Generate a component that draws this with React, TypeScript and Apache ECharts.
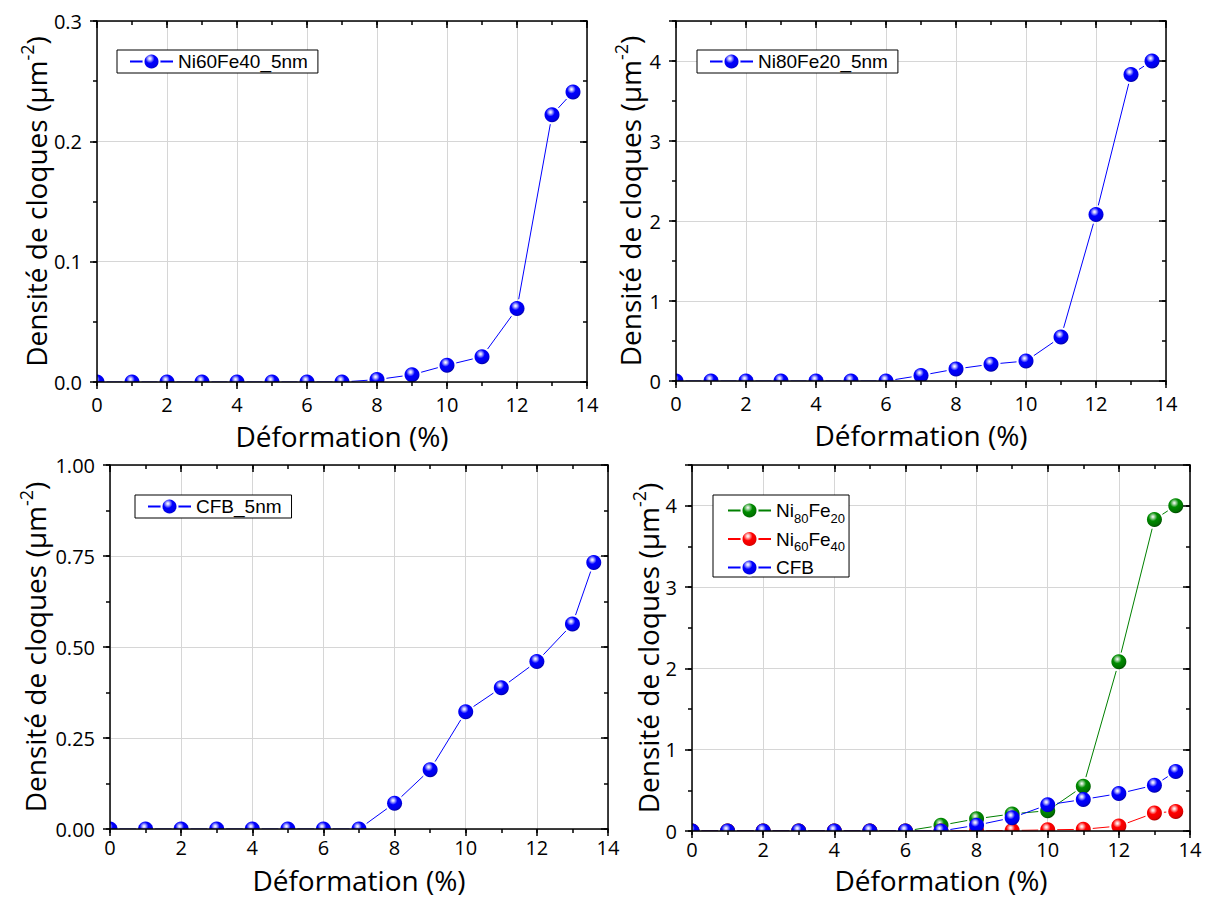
import React, { useEffect, useRef } from "react";
import * as echarts from "echarts";

// ---------- data ----------
const STRAIN = [0, 1, 2, 3, 4, 5, 6, 7, 8, 9, 10, 11, 12, 13, 13.6];
const NI60FE40 = [0, 0, 0, 0, 0, 0, 0, 0, 0.002, 0.006, 0.014, 0.021, 0.061, 0.222, 0.241];
const NI80FE20 = [0, 0, 0, 0, 0, 0, 0, 0.07, 0.15, 0.21, 0.25, 0.55, 2.08, 3.83, 4.0];
const CFB = [0, 0, 0, 0, 0, 0, 0, 0, 0.071, 0.163, 0.322, 0.388, 0.46, 0.563, 0.732];

const X_NAME = "Déformation (%)";
const Y_NAME = "{a|Densité de cloques (µm}{s|-2}{a|)}";
const X_RANGE = { min: 0, max: 14, major: 2, minor: 1, dec: 0 };
const Y_RANGES = [
  { min: 0, max: 0.3, major: 0.1, minor: 0.05, dec: 1 },
  { min: 0, max: 4.5, major: 1, minor: 0.5, dec: 0 },
  { min: 0, max: 1, major: 0.25, minor: 0.125, dec: 2 },
  { min: 0, max: 4.5, major: 1, minor: 0.5, dec: 0 },
];

const AXIS_FONT = "'Open Sans', 'DejaVu Sans', sans-serif";
const LEG_FONT = "'Liberation Sans', Arial, sans-serif";
const R = 7.5;

function sphere(stops: string[]) {
  return new echarts.graphic.RadialGradient(0.4, 0.32, 0.72, [
    { offset: 0, color: "#ffffff" },
    { offset: 0.12, color: stops[0] },
    { offset: 0.4, color: stops[1] },
    { offset: 0.8, color: stops[2] },
    { offset: 1, color: stops[3] },
  ]);
}
const BLUE = { line: "#0000ff", grad: () => sphere(["#c8c8ff", "#0000ff", "#0000e6", "#000090"]) };
const GREEN = { line: "#008000", grad: () => sphere(["#b8dcb8", "#008c00", "#007000", "#003c00"]) };
const RED = { line: "#ff0000", grad: () => sphere(["#ffc8c8", "#ff0000", "#e60000", "#940000"]) };

function axisSet(dim: "x" | "y", gi: number, r: any, nameGap: number, labelMargin: number, hideAbove?: number) {
  const near = dim === "x" ? "bottom" : "left";
  const far = dim === "x" ? "top" : "right";
  const base = { type: "value", gridIndex: gi, min: r.min, max: r.max };
  const tickStyle = { color: "#000", width: 1.5 };
  const lineStyle = { color: "#000", width: 1.5 };
  const main: any = {
    ...base,
    interval: r.major,
    position: near,
    axisLine: { show: false, onZero: false },
    axisTick: { show: true, length: 7, inside: false, lineStyle: tickStyle },
    minorTick: { show: false },
    axisLabel: {
      show: true,
      margin: labelMargin,
      color: "#000",
      fontFamily: AXIS_FONT,
      fontSize: 20,
      lineHeight: 22,
      formatter: (v: number) => (hideAbove !== undefined && v > hideAbove + 1e-9 ? "" : v.toFixed(r.dec)),
    },
    splitLine: { show: true, lineStyle: { color: "#d6d6d6", width: 1 } },
    name: dim === "x" ? X_NAME : Y_NAME,
    nameLocation: "middle",
    nameGap,
    nameTextStyle:
      dim === "x"
        ? { fontFamily: AXIS_FONT, fontSize: 28, lineHeight: 30, color: "#000" }
        : {
            fontFamily: AXIS_FONT,
            fontSize: 28,
            color: "#000",
            rich: {
              a: { fontFamily: AXIS_FONT, fontSize: 28, color: "#000", lineHeight: 36 },
              s: { fontFamily: AXIS_FONT, fontSize: 18, color: "#000", lineHeight: 18, verticalAlign: "top" },
            },
          },
    z: 0,
  };
  const nearMinor: any = {
    ...base,
    interval: r.minor,
    position: near,
    axisLine: { show: true, onZero: false, lineStyle },
    axisTick: { show: true, length: 4, inside: false, lineStyle: tickStyle },
    axisLabel: { show: false },
    splitLine: { show: false },
    z: 10,
  };
  const farMain: any = {
    ...base,
    interval: r.major,
    position: far,
    axisLine: { show: false, onZero: false },
    axisTick: { show: true, length: 7, inside: true, lineStyle: tickStyle },
    axisLabel: { show: false },
    splitLine: { show: false },
    z: 0,
  };
  const farMinor: any = {
    ...base,
    interval: r.minor,
    position: far,
    axisLine: { show: true, onZero: false, lineStyle },
    axisTick: { show: true, length: 4, inside: true, lineStyle: tickStyle },
    axisLabel: { show: false },
    splitLine: { show: false },
    z: 10,
  };
  return [main, nearMinor, farMain, farMinor];
}

function makeRenderItem(xs: number[], ys: number[], color: string, grad: any) {
  return (params: any, api: any) => {
    const i = params.dataIndex;
    const p = api.coord([api.value(0), api.value(1)]);
    const children: any[] = [];
    if (i < xs.length - 1) {
      const q = api.coord([xs[i + 1], ys[i + 1]]);
      const dx = q[0] - p[0];
      const dy = q[1] - p[1];
      const len = Math.hypot(dx, dy);
      const g = R + 2;
      if (len > 2 * g) {
        const ux = dx / len;
        const uy = dy / len;
        children.push({
          type: "line",
          shape: { x1: p[0] + ux * g, y1: p[1] + uy * g, x2: q[0] - ux * g, y2: q[1] - uy * g },
          style: { stroke: color, lineWidth: 1 },
        });
      }
    }
    children.push({ type: "circle", shape: { cx: p[0], cy: p[1], r: R }, style: { fill: grad } });
    return { type: "group", children };
  };
}

function seriesPair(name: string, gi: number, ys: number[], col: any) {
  const grad = col.grad();
  return [
    {
      type: "line",
      name,
      xAxisIndex: gi * 4,
      yAxisIndex: gi * 4,
      data: [],
      symbol: "circle",
      itemStyle: { color: grad },
      lineStyle: { color: col.line, width: 1 },
      animation: false,
    },
    {
      type: "custom",
      name: name + " points",
      coordinateSystem: "cartesian2d",
      xAxisIndex: gi * 4,
      yAxisIndex: gi * 4,
      clip: true,
      silent: true,
      data: STRAIN.map((x, i) => [x, ys[i]]),
      encode: { x: 0, y: 1 },
      renderItem: makeRenderItem(STRAIN, ys, col.line, grad),
      z: 2,
    },
  ];
}

const SUB_NAMES: Record<string, string> = {
  Ni80Fe20: "{n|Ni}{s|80}{n|Fe}{s|20}",
  Ni60Fe40: "{n|Ni}{s|60}{n|Fe}{s|40}",
  CFB: "{n|CFB}",
};

function legendBox(left: number, top: number, data: string[], extra: any = {}) {
  return {
    left,
    top,
    orient: "vertical",
    data,
    selectedMode: false,
    backgroundColor: "#fff",
    borderColor: "#000",
    borderWidth: 1,
    borderRadius: 0,
    padding: [2, 10, 2, 12],
    itemWidth: 43,
    itemHeight: 20,
    itemGap: 1,
    itemStyle: { borderColor: "#fff", borderWidth: 2 },
    textStyle: { fontFamily: LEG_FONT, fontSize: 19, color: "#000" },
    ...extra,
  };
}

export default function App() {
  const ref = useRef<HTMLDivElement>(null);
  useEffect(() => {
    document.body.style.margin = "0";
    const chart = echarts.init(ref.current!, null, { renderer: "svg" });
    const grids = [
      { left: 97, top: 21, width: 490, height: 361 },
      { left: 676, top: 21, width: 490, height: 360 },
      { left: 110, top: 465, width: 498, height: 364 },
      { left: 692, top: 465, width: 498, height: 366 },
    ].map((g) => ({ ...g, containLabel: false, outerBoundsMode: "none", show: false }));

    const yGaps = [43, 28, 57, 26];
    const xGaps = [39, 39, 36, 34];
    const xMargins = [11, 11, 7, 7];
    const xAxes: any[] = [];
    const yAxes: any[] = [];
    for (let gi = 0; gi < 4; gi++) {
      xAxes.push(...axisSet("x", gi, X_RANGE, xGaps[gi], xMargins[gi]));
      const yr = Y_RANGES[gi];
      yAxes.push(...axisSet("y", gi, yr, yGaps[gi], 15, yr.max === 4.5 ? 4 : undefined));
    }

    const series: any[] = [
      ...seriesPair("Ni60Fe40_5nm", 0, NI60FE40, BLUE),
      ...seriesPair("Ni80Fe20_5nm", 1, NI80FE20, BLUE),
      ...seriesPair("CFB_5nm", 2, CFB, BLUE),
      ...seriesPair("Ni80Fe20", 3, NI80FE20, GREEN),
      ...seriesPair("Ni60Fe40", 3, NI60FE40, RED),
      ...seriesPair("CFB", 3, CFB, BLUE),
    ];

    const option: any = {
      animation: false,
      backgroundColor: "#fff",
      grid: grids,
      xAxis: xAxes,
      yAxis: yAxes,
      legend: [
        legendBox(117, 50, ["Ni60Fe40_5nm"]),
        legendBox(697, 50, ["Ni80Fe20_5nm"]),
        legendBox(135, 495, ["CFB_5nm"]),
        legendBox(713, 495, ["Ni80Fe20", "Ni60Fe40", "CFB"], {
          padding: [6, 4, 0, 14],
          itemGap: 5,
          formatter: (name: string) => SUB_NAMES[name] || name,
          textStyle: {
            fontFamily: LEG_FONT,
            fontSize: 19,
            color: "#000",
            rich: {
              n: { fontFamily: LEG_FONT, fontSize: 19, color: "#000", lineHeight: 28 },
              s: { fontFamily: LEG_FONT, fontSize: 13, color: "#000", lineHeight: 13, verticalAlign: "bottom" },
            },
          },
        }),
      ],
      series,
    };
    chart.setOption(option);
    return () => chart.dispose();
  }, []);
  return <div ref={ref} style={{ width: 1210, height: 900 }} />;
}
